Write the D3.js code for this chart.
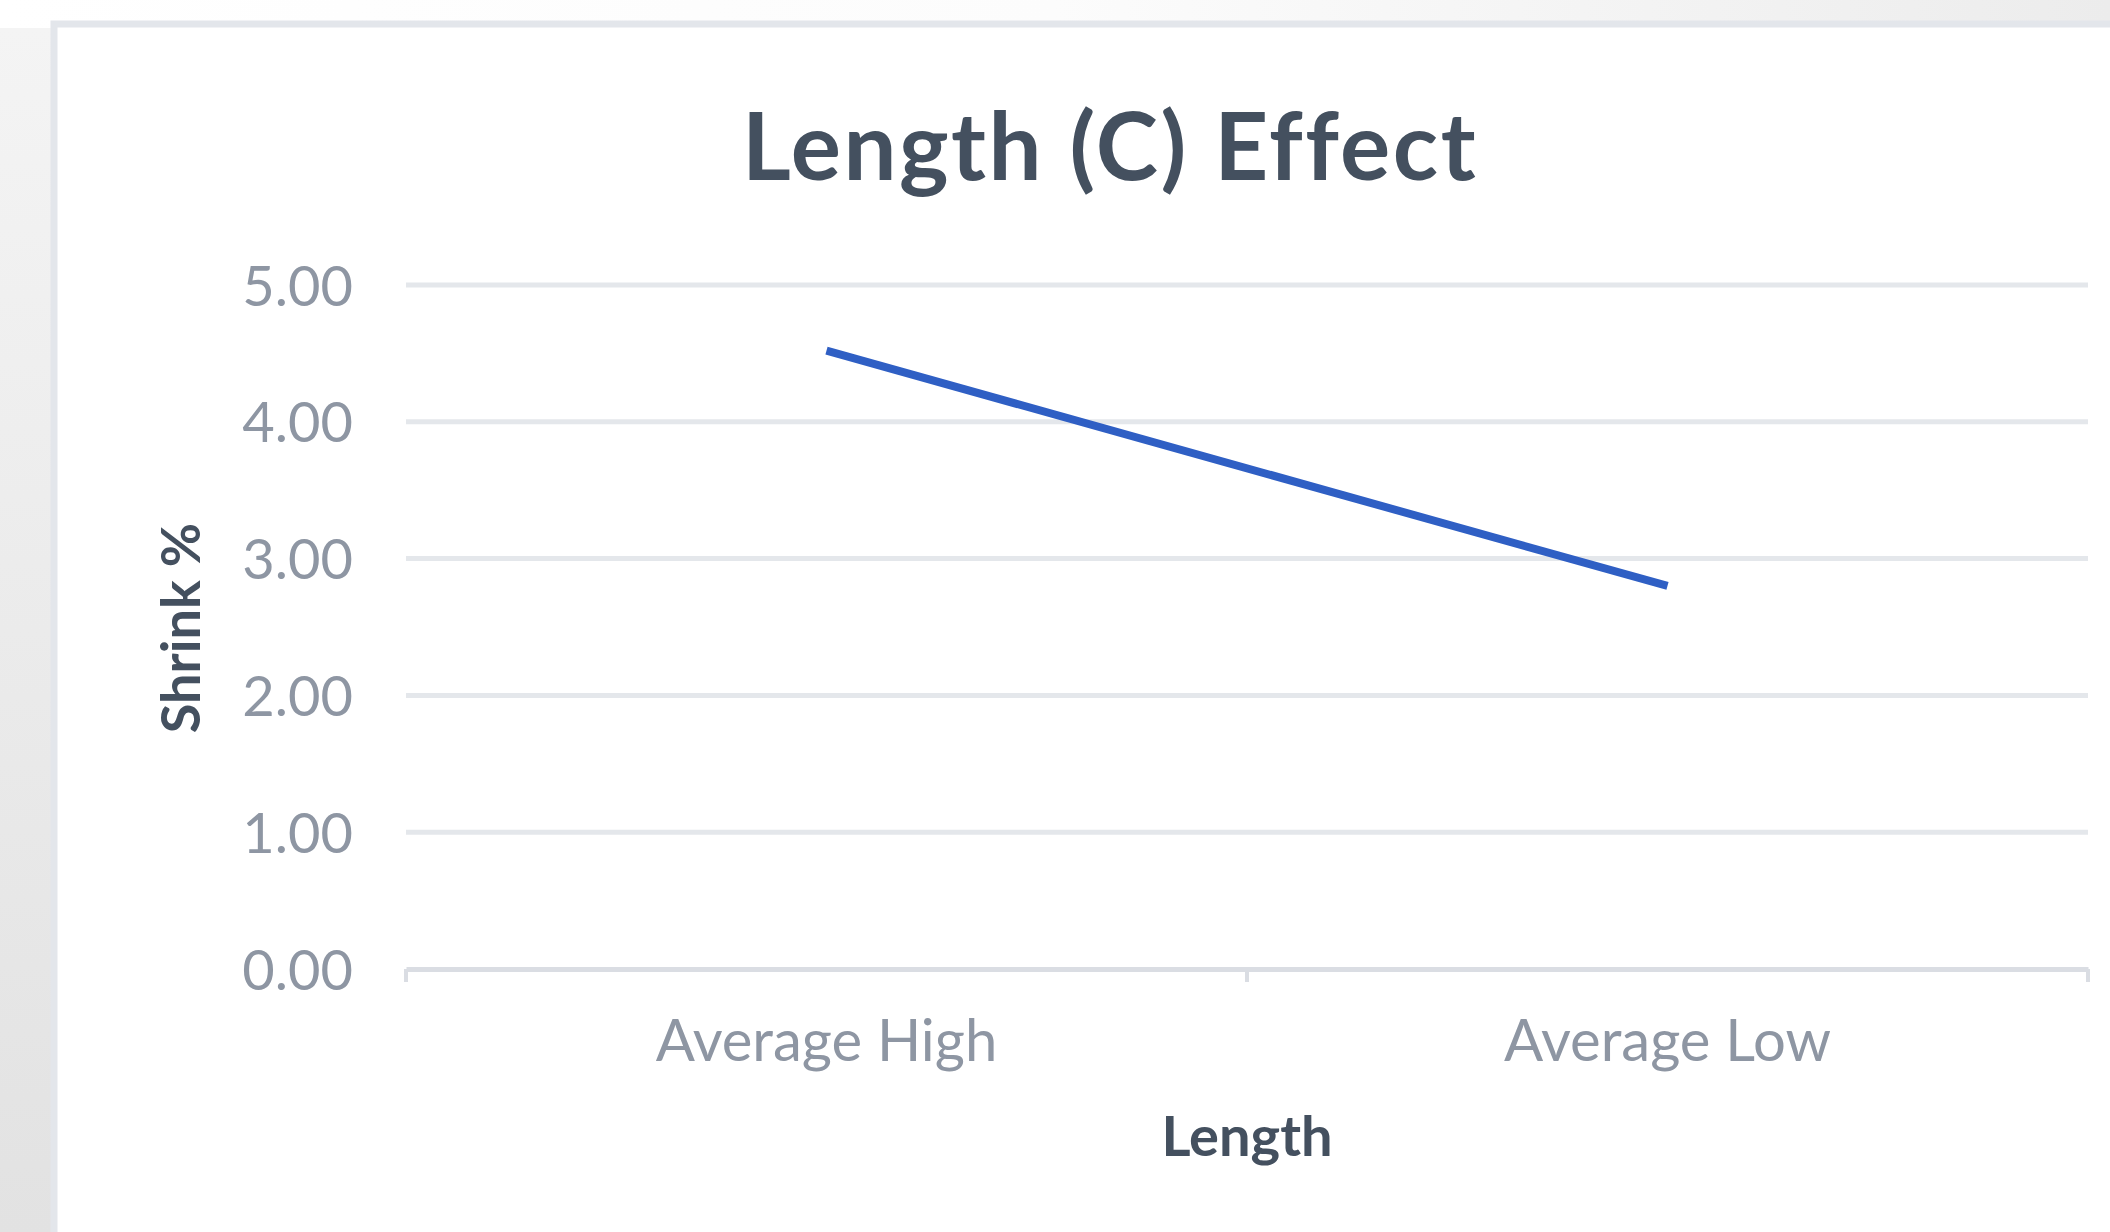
<!DOCTYPE html>
<html><head><meta charset="utf-8">
<script src="https://cdn.jsdelivr.net/npm/d3@7"></script>
<style>html,body{margin:0;padding:0;background:#fff;overflow:hidden}</style>
</head><body><svg id="c" width="2110" height="1232"></svg>
<script>
const categories = ["Average High", "Average Low"];
const shrinkValues = [4.52, 2.80];
const yTicks = [0, 1, 2, 3, 4, 5];
const title = "Length (C) Effect";
const xTitle = "Length";
const yTitle = "Shrink %";

const svg = d3.select("#c");
const defs = svg.append("defs");
const g1 = defs.append("linearGradient").attr("id","bg").attr("x1","0").attr("y1","0").attr("x2","1").attr("y2","0");
g1.append("stop").attr("offset","0").attr("stop-color","#ffffff");
g1.append("stop").attr("offset","0.5").attr("stop-color","#fcfcfc");
g1.append("stop").attr("offset","1").attr("stop-color","#ececec");
const g2 = defs.append("linearGradient").attr("id","lf").attr("x1","0").attr("y1","0").attr("x2","0").attr("y2","1");
g2.append("stop").attr("offset","0").attr("stop-color","#f4f4f4");
g2.append("stop").attr("offset","1").attr("stop-color","#e2e2e2");

svg.append("rect").attr("width",2110).attr("height",1232).attr("fill","url(#bg)");
svg.append("rect").attr("x",0).attr("y",28).attr("width",56).attr("height",1204).attr("fill","url(#lf)");
// chart frame
svg.append("rect").attr("x",54).attr("y",24).attr("width",2070).attr("height",1220)
  .attr("fill","#ffffff").attr("stroke","#e3e6eb").attr("stroke-width",7);

const font = "Lato, 'Open Sans', sans-serif";
const plot = {left:406, right:2088, top:285, bottom:969};

const x = d3.scalePoint().domain(categories).range([plot.left, plot.right]).padding(0.5);
const xBand = d3.scaleBand().domain(categories).range([plot.left, plot.right]);
const y = d3.scaleLinear().domain([0,5]).range([plot.bottom, plot.top]);

// gridlines
svg.append("g").selectAll("line").data(yTicks.filter(d=>d>0)).join("line")
  .attr("x1",plot.left).attr("x2",plot.right)
  .attr("y1",d=>y(d)).attr("y2",d=>y(d))
  .attr("stroke","#e4e7eb").attr("stroke-width",5);

// y axis labels
const yAxis = d3.axisLeft(y).tickValues(yTicks).tickFormat(d3.format(".2f")).tickSize(0).tickPadding(53);
const ya = svg.append("g").attr("transform",`translate(${plot.left},0)`).call(yAxis);
ya.select(".domain").remove();
ya.selectAll("text").attr("font-family",font).attr("font-size",56).attr("fill","#8e96a3").attr("dy","0.36em");

// x axis
const xAxis = d3.axisBottom(xBand).tickSize(0).tickPadding(57);
const xa = svg.append("g").attr("transform",`translate(0,${plot.bottom})`).call(xAxis);
xa.select(".domain").attr("stroke","#dadde3").attr("stroke-width",5);
xa.selectAll("text").attr("font-family",font).attr("font-size",58).attr("fill","#8e96a3").attr("dy","0.6em");
// tick marks at band boundaries
const bounds = [plot.left, ...categories.slice(1).map(c=>xBand(c)), plot.right];
xa.selectAll(".bt").data(bounds).join("line").attr("class","bt")
  .attr("x1",d=>d).attr("x2",d=>d).attr("y1",0).attr("y2",13)
  .attr("stroke","#dadde3").attr("stroke-width",4);

// line
const line = d3.line().x((d,i)=>x(categories[i])).y(d=>y(d));
svg.append("path").datum(shrinkValues).attr("d",line)
  .attr("fill","none").attr("stroke","#2f5fc4").attr("stroke-width",8).attr("stroke-linecap","butt");

// titles
svg.append("text").attr("x",1110).attr("y",180).attr("text-anchor","middle")
  .attr("font-family",font).attr("font-weight","bold").attr("font-size",94).attr("letter-spacing",2.5)
  .attr("fill","#44505f").text(title);
svg.append("text").attr("x",1247).attr("y",1156).attr("text-anchor","middle")
  .attr("font-family",font).attr("font-weight","bold").attr("font-size",56).attr("fill","#44505f").text(xTitle);
svg.append("text").attr("transform","translate(200,628) rotate(-90)").attr("text-anchor","middle")
  .attr("font-family",font).attr("font-weight","bold").attr("font-size",54).attr("fill","#44505f").text(yTitle);
</script></body></html>
